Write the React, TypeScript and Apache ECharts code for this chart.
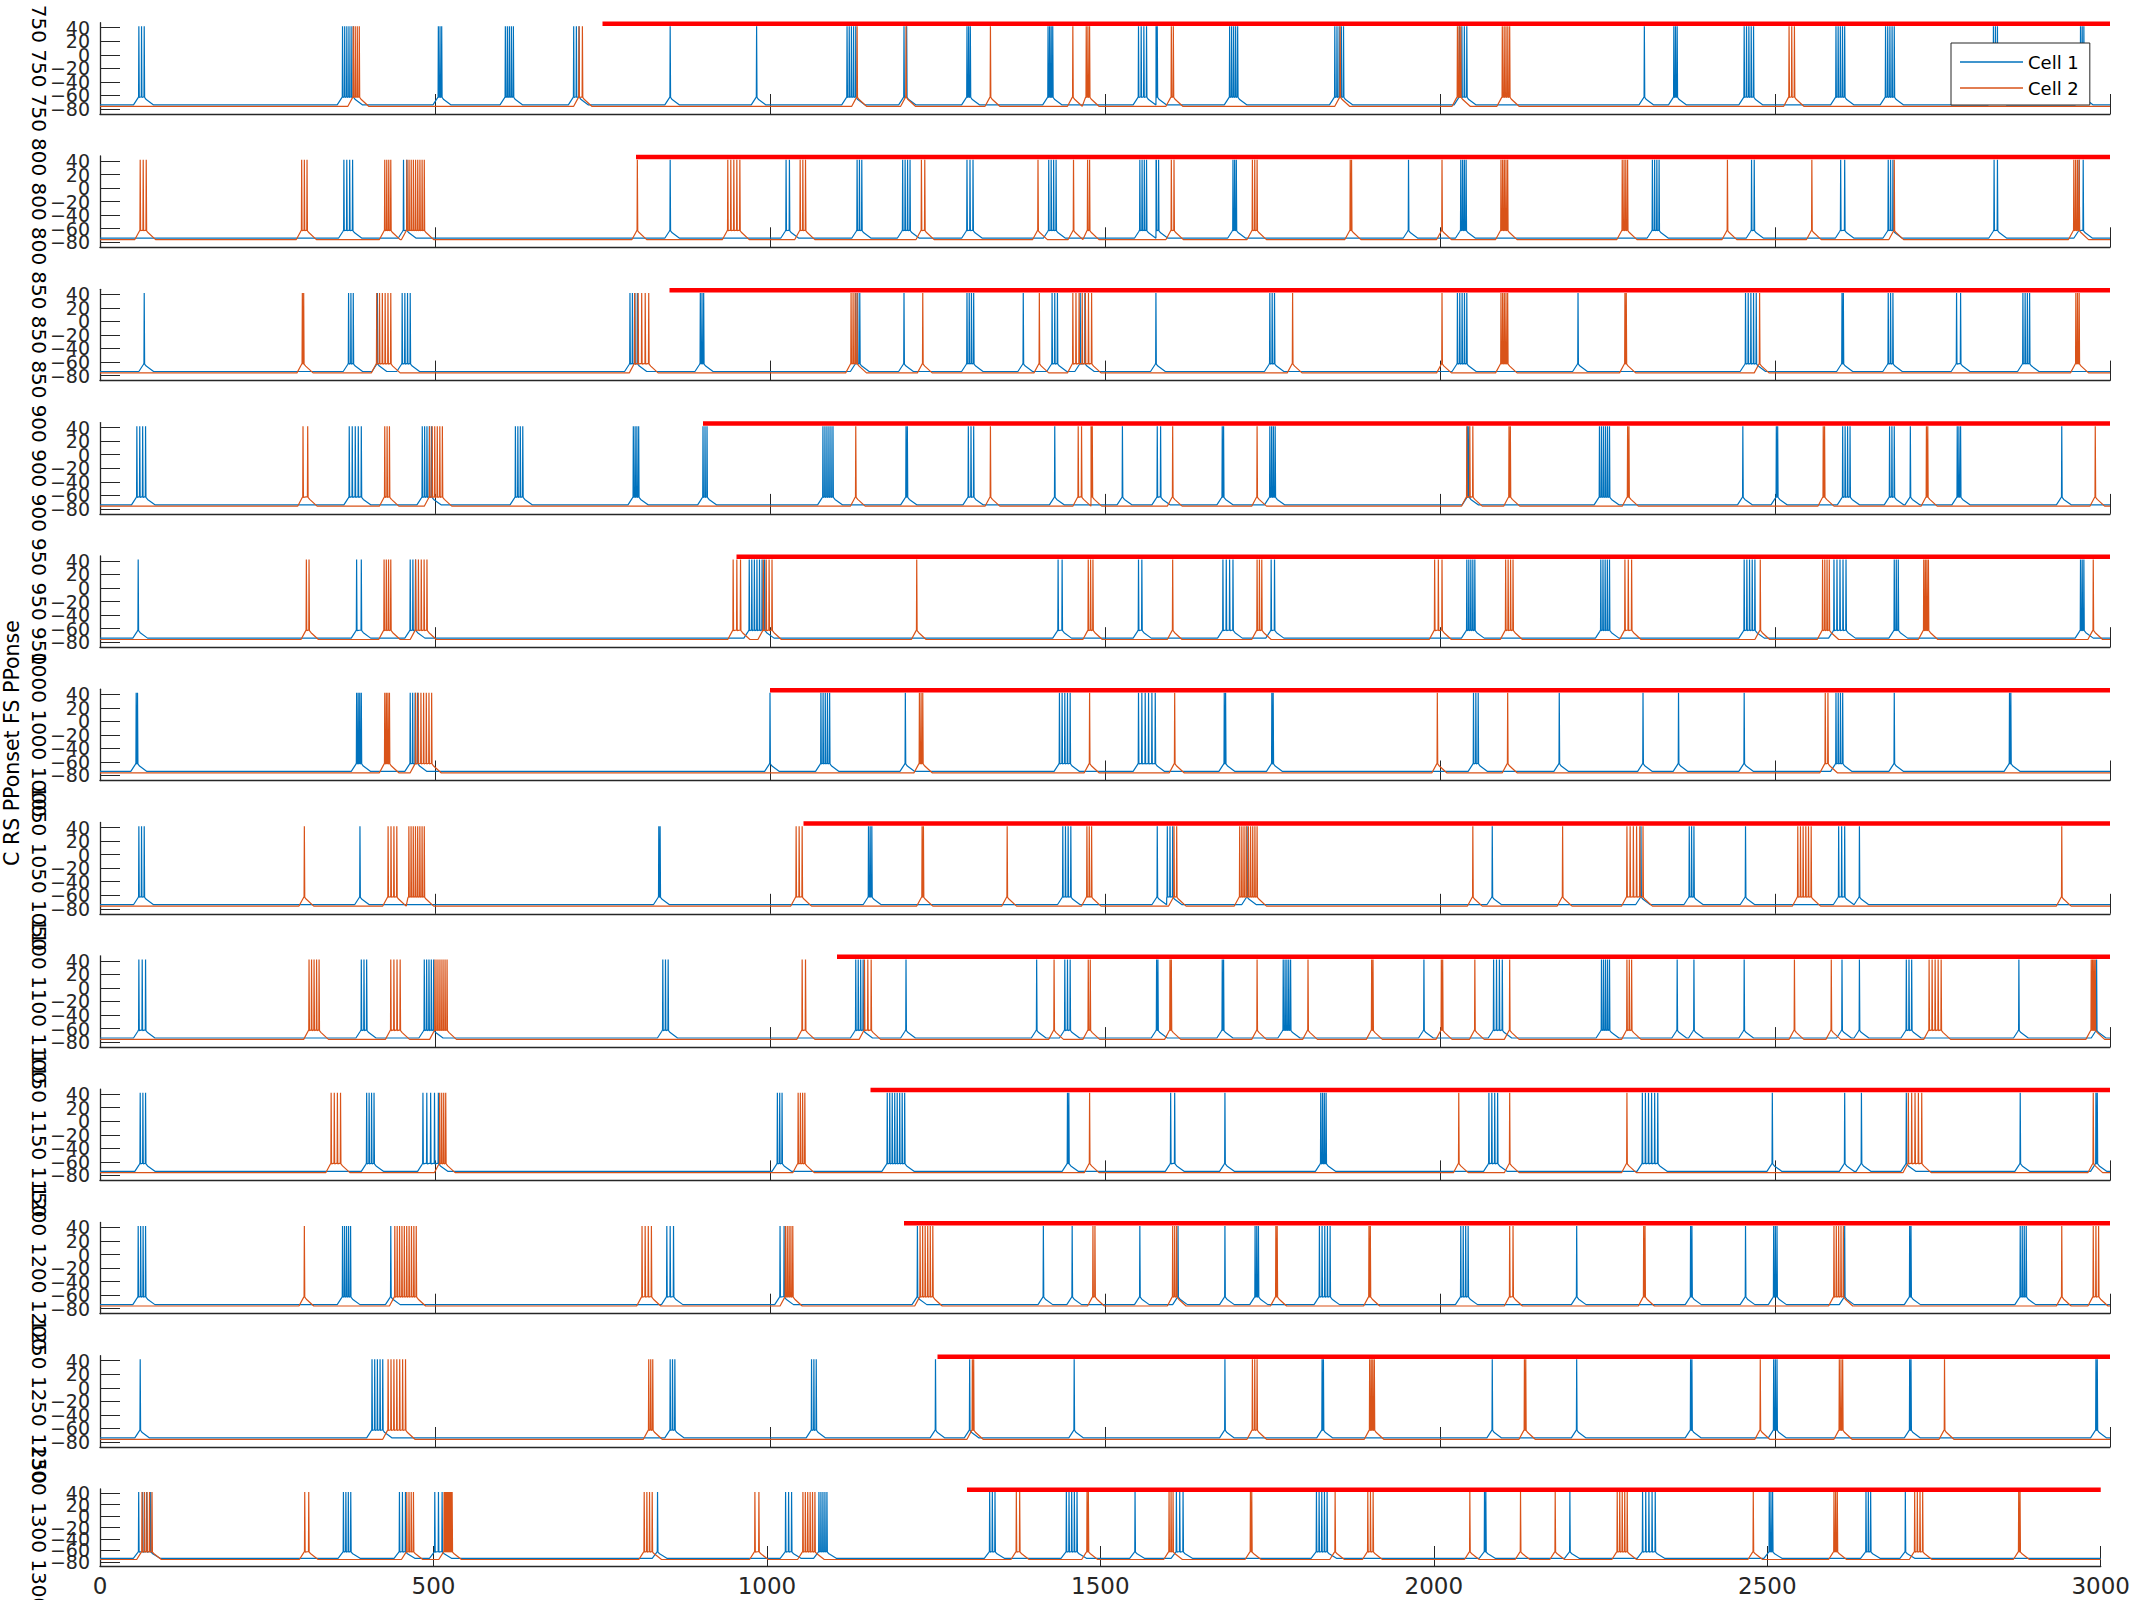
import React, { useEffect, useRef } from "react";
import * as echarts from "echarts";

// Red "onset" line start times (ms) per panel
const RED_STARTS = [750, 800, 850, 900, 950, 1000, 1050, 1100, 1150, 1200, 1250, 1300];
const Y_TICKS = [-80, -60, -40, -20, 0, 20, 40];
const X_TICKS = [0, 500, 1000, 1500, 2000, 2500, 3000];
const PANEL_VALUES = ["750", "800", "850", "900", "950", "1000", "1050", "1100", "1150", "1200", "1250", "1300"];
const Y_MIN = -87.4;
const Y_MAX = 47.4;

// Burst events per panel: [first spike ms, last spike ms, number of spikes]
const P1_CELL1 = [[58,66,3],[362,378,6],[505,510,3],[605,617,5],[707,715,3],[851,851,1],[980,980,1],[1115,1128,5],[1200,1204,2],[1294,1299,3],[1415,1422,4],[1550,1562,4],[1570,1578,3],[1686,1698,5],[1843,1856,5],[2029,2040,4],[2305,2305,1],[2349,2354,3],[2454,2468,5],[2591,2604,5],[2665,2678,5],[2826,2832,3],[2956,2961,3]];
const P1_CELL2 = [[378,387,4],[715,720,2],[1130,1130,1],[1203,1203,1],[1329,1329,1],[1452,1452,1],[1472,1477,3],[1599,1602,2],[1851,1851,1],[2026,2031,3],[2093,2104,5],[2521,2529,3]];
const P2_CELL1 = [[364,377,4],[453,458,2],[851,851,1],[1024,1029,2],[1130,1137,3],[1198,1209,4],[1294,1303,3],[1416,1427,4],[1552,1562,4],[1570,1580,4],[1691,1696,3],[1953,1953,1],[2031,2039,4],[2317,2327,4],[2465,2469,2],[2598,2604,2],[2669,2676,3],[2827,2832,2],[2954,2960,2]];
const P2_CELL2 = [[60,69,3],[301,309,3],[425,434,4],[458,484,9],[802,802,1],[937,955,5],[1045,1053,3],[1226,1231,2],[1400,1400,1],[1453,1453,1],[1474,1477,2],[1599,1603,2],[1720,1727,3],[1866,1868,2],[2003,2003,1],[2091,2101,5],[2272,2280,4],[2429,2429,1],[2555,2555,1],[2678,2678,1],[2946,2954,4]];
const P3_CELL1 = [[66,66,1],[371,378,3],[414,414,1],[451,463,4],[791,802,4],[896,901,3],[1128,1134,3],[1200,1200,1],[1294,1304,4],[1378,1378,1],[1421,1429,3],[1463,1470,2],[1576,1576,1],[1746,1753,3],[2026,2040,5],[2206,2206,1],[2456,2472,5],[2600,2602,2],[2669,2676,3],[2771,2777,2],[2870,2880,4]];
const P3_CELL2 = [[302,304,2],[413,434,6],[798,819,5],[1121,1130,4],[1228,1228,1],[1402,1402,1],[1452,1480,7],[1780,1780,1],[2003,2003,1],[2091,2101,5],[2276,2278,2],[2477,2477,1],[2949,2954,3]];
const P4_CELL1 = [[55,68,4],[372,390,5],[481,495,5],[620,631,4],[796,804,4],[900,906,3],[1079,1094,6],[1203,1205,2],[1296,1304,3],[1425,1425,1],[1526,1526,1],[1578,1583,2],[1675,1677,2],[1746,1754,4],[2041,2043,2],[2238,2253,6],[2452,2452,1],[2502,2504,2],[2601,2612,4],[2671,2678,3],[2702,2702,1],[2772,2777,3],[2928,2928,1]];
const P4_CELL2 = [[303,310,2],[425,432,3],[492,511,6],[1128,1128,1],[1329,1329,1],[1460,1465,2],[1478,1481,2],[1601,1601,1],[1727,1727,1],[2040,2049,3],[2103,2105,2],[2280,2282,2],[2572,2574,2],[2726,2728,2],[2978,2978,1]];
const P5_CELL1 = [[57,57,1],[383,390,2],[463,471,3],[969,992,7],[1430,1436,2],[1550,1555,2],[1676,1691,4],[1748,1753,2],[2040,2052,5],[2240,2253,5],[2454,2470,5],[2588,2606,5],[2678,2684,3],[2956,2961,3]];
const P5_CELL2 = [[308,312,2],[424,434,4],[471,488,5],[945,956,3],[990,1003,4],[1219,1219,1],[1475,1482,3],[1601,1601,1],[1727,1734,3],[1992,2003,3],[2098,2109,4],[2276,2286,3],[2478,2478,1],[2571,2581,4],[2722,2729,4],[2975,2975,1]];
const P6_CELL1 = [[54,56,2],[383,390,4],[463,474,4],[1000,1000,1],[1076,1089,5],[1202,1202,1],[1432,1448,5],[1550,1575,6],[1678,1680,2],[1749,1751,2],[2050,2057,3],[2178,2178,1],[2303,2303,1],[2356,2356,1],[2454,2454,1],[2591,2601,4],[2678,2678,1],[2850,2852,2]];
const P6_CELL2 = [[425,432,4],[471,495,7],[1223,1228,3],[1477,1477,1],[1604,1604,1],[1996,1996,1],[2101,2101,1],[2575,2579,2]];
const P7_CELL1 = [[58,66,3],[388,388,1],[834,836,2],[1147,1152,3],[1437,1449,4],[1578,1578,1],[1593,1601,3],[1712,1712,1],[2078,2078,1],[2300,2300,1],[2372,2379,3],[2456,2456,1],[2595,2604,3],[2626,2626,1]];
const P7_CELL2 = [[305,305,1],[430,443,4],[461,484,8],[1039,1048,3],[1227,1229,2],[1354,1354,1],[1473,1480,3],[1603,1607,2],[1701,1727,9],[2049,2049,1],[2183,2183,1],[2279,2303,6],[2534,2554,6],[2928,2928,1]];
const P8_CELL1 = [[58,68,3],[390,398,3],[484,498,5],[840,848,3],[1128,1139,4],[1203,1203,1],[1398,1398,1],[1440,1448,3],[1577,1579,2],[1675,1677,2],[1766,1777,5],[1976,1976,1],[2080,2093,4],[2241,2253,5],[2354,2354,1],[2379,2379,1],[2454,2454,1],[2600,2600,1],[2626,2626,1],[2696,2704,3],[2864,2864,1],[2980,2980,1]];
const P8_CELL2 = [[312,327,5],[434,448,4],[500,518,7],[1048,1053,2],[1141,1151,3],[1424,1424,1],[1475,1478,2],[1597,1599,2],[1727,1727,1],[1803,1803,1],[1898,1900,2],[2002,2004,2],[2052,2052,1],[2104,2104,1],[2279,2286,3],[2529,2529,1],[2584,2584,1],[2730,2748,5],[2972,2978,4]];
const P9_CELL1 = [[60,68,3],[398,409,4],[482,505,5],[1011,1018,3],[1175,1201,8],[1444,1446,2],[1598,1604,2],[1679,1679,1],[1822,1830,4],[2073,2086,4],[2302,2325,6],[2496,2496,1],[2604,2604,1],[2629,2629,1],[2696,2696,1],[2866,2866,1],[2979,2981,2]];
const P9_CELL2 = [[345,359,4],[507,516,4],[1042,1052,4],[1477,1477,1],[2028,2028,1],[2104,2104,1],[2279,2279,1],[2699,2719,5],[2975,2975,1]];
const P10_CELL1 = [[57,68,4],[362,374,5],[434,434,1],[846,856,3],[1015,1021,2],[1220,1220,1],[1408,1408,1],[1451,1451,1],[1552,1552,1],[1609,1609,1],[1679,1679,1],[1724,1729,3],[1820,1836,5],[2031,2042,4],[2204,2204,1],[2374,2376,2],[2456,2456,1],[2498,2503,3],[2604,2604,1],[2701,2703,2],[2866,2875,4]];
const P10_CELL2 = [[305,305,1],[440,472,10],[809,823,4],[1023,1034,5],[1224,1243,6],[1482,1485,2],[1601,1607,3],[1755,1757,2],[1894,1896,2],[2104,2109,2],[2304,2306,2],[2588,2602,5],[2928,2928,1],[2975,2983,3]];
const P11_CELL1 = [[60,60,1],[406,422,5],[851,858,3],[1062,1069,3],[1247,1247,1],[1298,1298,1],[1454,1454,1],[1679,1679,1],[1824,1826,2],[2078,2078,1],[2204,2204,1],[2374,2376,2],[2498,2503,3],[2701,2703,2],[2979,2981,2]];
const P11_CELL2 = [[430,456,7],[819,825,3],[1302,1304,2],[1720,1727,3],[1895,1902,4],[2126,2128,2],[2478,2478,1],[2596,2601,3],[2753,2753,1]];
const P12_CELL1 = [[58,76,4],[365,376,4],[449,458,3],[502,513,3],[836,836,1],[1028,1037,3],[1078,1090,5],[1334,1342,3],[1449,1465,5],[1552,1552,1],[1614,1624,3],[1824,1840,5],[2076,2078,2],[2204,2204,1],[2313,2332,5],[2503,2508,3],[2648,2655,3],[2707,2707,1]];
const P12_CELL2 = [[63,78,5],[307,313,2],[460,470,4],[516,528,8],[816,828,4],[982,988,2],[1054,1072,6],[1374,1379,2],[1480,1482,2],[1603,1609,3],[1725,1727,2],[1852,1852,1],[1901,1909,3],[2054,2054,1],[2130,2130,1],[2182,2182,1],[2275,2290,5],[2479,2479,1],[2600,2605,3],[2721,2733,4],[2877,2879,2]];

const CELL1_PANELS = [P1_CELL1, P2_CELL1, P3_CELL1, P4_CELL1, P5_CELL1, P6_CELL1, P7_CELL1, P8_CELL1, P9_CELL1, P10_CELL1, P11_CELL1, P12_CELL1];
const CELL2_PANELS = [P1_CELL2, P2_CELL2, P3_CELL2, P4_CELL2, P5_CELL2, P6_CELL2, P7_CELL2, P8_CELL2, P9_CELL2, P10_CELL2, P11_CELL2, P12_CELL2];

const BASE_CELL1 = -74;
const BASE_CELL2 = -76;
const SPIKE_PEAK = 42;
const RED_LEVEL = 46;

function buildTrace(events: number[][], base: number): number[][] {
  const ev = [...events].sort((a, b) => a[0] - b[0]);
  const pts: number[][] = [[0, base]];
  let last = 0;
  const push = (t: number, v: number) => {
    if (t <= last) t = last + 0.05;
    if (t > 3000) return;
    pts.push([t, v]);
    last = t;
  };
  for (const [t0, t1, n] of ev) {
    push(t0 - 8, base);
    push(t0 - 1.5, -64);
    for (let k = 0; k < n; k++) {
      const s = n === 1 ? t0 : t0 + ((t1 - t0) * k) / (n - 1);
      push(s - 0.4, -62);
      push(s, SPIKE_PEAK);
      push(s + 0.6, -63);
    }
    push(t1 + 3, -66);
    push(t1 + 14, base);
  }
  push(3000, base);
  return pts;
}

const FONT = "DejaVu Sans";
// The axis extents are added as blank, suppressed end labels so that every real tick label stays visible.
const Y_LABEL_VALUES = [Y_MIN, ...Y_TICKS, Y_MAX];
const fmtY = (v: number) => {
  if (!Y_TICKS.includes(v)) return "";
  return v < 0 ? "\u2212" + Math.abs(v) : String(v);
};

export default function App() {
  const ref = useRef<HTMLDivElement>(null);
  useEffect(() => {
    if (!ref.current) return;
    const chart = echarts.init(ref.current, null, { renderer: "svg" });
    const grid: any[] = [];
    const xAxis: any[] = [];
    const yAxis: any[] = [];
    const series: any[] = [];
    const graphic: any[] = [];
    for (let i = 0; i < 12; i++) {
      const lastPanel = i === 11;
      const top = 22.7 + 133.3 * i;
      const height = lastPanel ? 77 : 91.3;
      const right = lastPanel ? 2133 - 2102 : 2133 - 2110;
      grid.push({ left: 100, top, height, right });
      xAxis.push({
        type: "value",
        gridIndex: i,
        min: 0,
        max: 3000,
        interval: 500,
        axisLine: { show: true, onZero: false, lineStyle: { color: "#262626", width: 1.3 } },
        axisTick: { show: true, inside: true, length: 20, customValues: X_TICKS, lineStyle: { color: "#262626", width: 1 } },
        axisLabel: {
          show: lastPanel,
          customValues: X_TICKS,
          formatter: (v: number) => String(v),
          showMinLabel: true,
          showMaxLabel: true,
          hideOverlap: false,
          fontSize: 23,
          fontFamily: FONT,
          color: "#262626",
          margin: 8,
        },
        splitLine: { show: false },
      });
      yAxis.push({
        type: "value",
        gridIndex: i,
        min: Y_MIN,
        max: Y_MAX,
        axisLine: { show: true, onZero: false, lineStyle: { color: "#262626", width: 1.3 } },
        axisTick: {
          show: true,
          inside: true,
          length: 20,
          customValues: Y_LABEL_VALUES,
          lineStyle: { color: "#262626", width: 1 },
        },
        axisLabel: {
          show: true,
          customValues: Y_LABEL_VALUES,
          formatter: fmtY,
          showMinLabel: false,
          showMaxLabel: false,
          hideOverlap: false,
          fontSize: 19,
          fontFamily: FONT,
          color: "#262626",
          margin: 10,
        },
        splitLine: { show: false },
      });
      series.push({
        name: "Cell 1",
        type: "line",
        xAxisIndex: i,
        yAxisIndex: i,
        symbol: "none",
        color: "#0072BD",
        lineStyle: { width: 1.2, color: "#0072BD" },
        data: buildTrace(CELL1_PANELS[i], BASE_CELL1),
        z: 2,
      });
      series.push({
        name: "Cell 2",
        type: "line",
        xAxisIndex: i,
        yAxisIndex: i,
        symbol: "none",
        color: "#D95319",
        lineStyle: { width: 1.2, color: "#D95319" },
        data: buildTrace(CELL2_PANELS[i], BASE_CELL2),
        z: 3,
      });
      series.push({
        name: "onset",
        type: "line",
        xAxisIndex: i,
        yAxisIndex: i,
        symbol: "none",
        color: "#FF0000",
        lineStyle: { width: 4.5, color: "#FF0000" },
        data: [[RED_STARTS[i], RED_LEVEL], [3000, RED_LEVEL]],
        z: 4,
      });
      const v = PANEL_VALUES[i];
      graphic.push({
        type: "text",
        x: 39,
        y: top + height / 2,
        rotation: -Math.PI / 2,
        style: {
          text: `${v} ${v} ${v}`,
          font: "20px DejaVu Sans",
          fill: "#000",
          align: "center",
          verticalAlign: "middle",
        },
      });
    }
    graphic.push({
      type: "text",
      x: 11.5,
      y: 743,
      rotation: Math.PI / 2,
      style: {
        text: "C RS PPonset FS PPonse",
        font: "20.5px DejaVu Sans",
        fill: "#000",
        align: "center",
        verticalAlign: "middle",
      },
    });
    const lineIcon = "path://M0,0L63,0L63,1.3L0,1.3Z";
    chart.setOption({
      animation: false,
      backgroundColor: "#fff",
      grid,
      xAxis,
      yAxis,
      series,
      graphic,
      legend: {
        data: [
          { name: "Cell 1", icon: lineIcon },
          { name: "Cell 2", icon: lineIcon },
        ],
        orient: "vertical",
        left: 1951,
        top: 43,
        itemWidth: 63,
        itemHeight: 14,
        itemGap: 8,
        symbolKeepAspect: true,
        padding: [10, 11, 8, 9],
        selectedMode: false,
        borderColor: "#262626",
        borderWidth: 1,
        backgroundColor: "#fff",
        textStyle: { fontSize: 18, fontFamily: FONT, color: "#000" },
        z: 10,
      },
    });
    return () => chart.dispose();
  }, []);
  return (
    <div
      ref={ref}
      style={{ position: "fixed", left: 0, top: 0, width: 2133, height: 1600, background: "#fff" }}
    />
  );
}
